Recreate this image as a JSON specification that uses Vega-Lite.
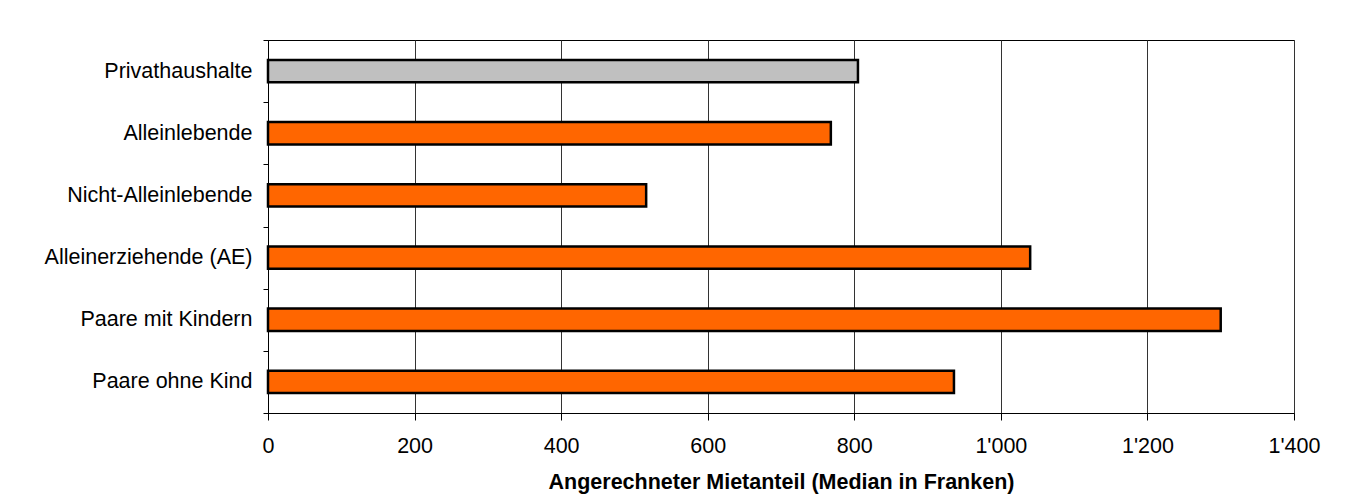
{
  "$schema": "https://vega.github.io/schema/vega-lite/v6.json",
  "width": 1026,
  "height": 373,
  "autosize": {"type": "none"},
  "padding": {"left": 268, "top": 40, "right": 62, "bottom": 91},
  "background": "#ffffff",
  "data": {
    "values": [
      {"kategorie": "Privathaushalte", "typ": "Total", "median": 805},
      {"kategorie": "Alleinlebende", "typ": "Haushaltstyp", "median": 768},
      {"kategorie": "Nicht-Alleinlebende", "typ": "Haushaltstyp", "median": 516},
      {"kategorie": "Alleinerziehende (AE)", "typ": "Haushaltstyp", "median": 1040},
      {"kategorie": "Paare mit Kindern", "typ": "Haushaltstyp", "median": 1300},
      {"kategorie": "Paare ohne Kind", "typ": "Haushaltstyp", "median": 936}
    ]
  },
  "mark": {"type": "bar", "height": {"band": 0.36}, "stroke": "#000000", "strokeWidth": 2.5},
  "encoding": {
    "y": {
      "field": "kategorie",
      "type": "nominal",
      "sort": null,
      "scale": {"paddingInner": 0, "paddingOuter": 0},
      "axis": {
        "title": null,
        "tickBand": "extent",
        "tickSize": 5,
        "tickColor": "#000000",
        "domainColor": "#000000",
        "labelFont": "Liberation Sans",
        "labelFontSize": 21.5,
        "labelColor": "#000000",
        "labelPadding": 11,
        "labelLimit": 400,
        "grid": false
      }
    },
    "x": {
      "field": "median",
      "type": "quantitative",
      "scale": {"domain": [0, 1400], "nice": false},
      "axis": {
        "values": [0, 200, 400, 600, 800, 1000, 1200, 1400],
        "labelExpr": "replace(format(datum.value, ','), ',', \"'\")",
        "title": "Angerechneter Mietanteil (Median in Franken)",
        "titleFont": "Liberation Sans",
        "titleFontSize": 21.5,
        "titleFontWeight": "bold",
        "titleColor": "#000000",
        "titlePadding": 15,
        "labelFont": "Liberation Sans",
        "labelFontSize": 21.5,
        "labelColor": "#000000",
        "labelPadding": 15,
        "tickSize": 7,
        "tickColor": "#000000",
        "domainColor": "#000000",
        "grid": true,
        "gridColor": "#333333",
        "gridOpacity": 1,
        "labelFlush": false
      }
    },
    "color": {
      "field": "typ",
      "type": "nominal",
      "scale": {"domain": ["Total", "Haushaltstyp"], "range": ["#C0C0C0", "#FF6600"]},
      "legend": null
    }
  },
  "config": {
    "view": {"stroke": "#000000", "strokeWidth": 1},
    "axis": {"domainWidth": 1, "tickWidth": 1, "gridWidth": 1}
  }
}
